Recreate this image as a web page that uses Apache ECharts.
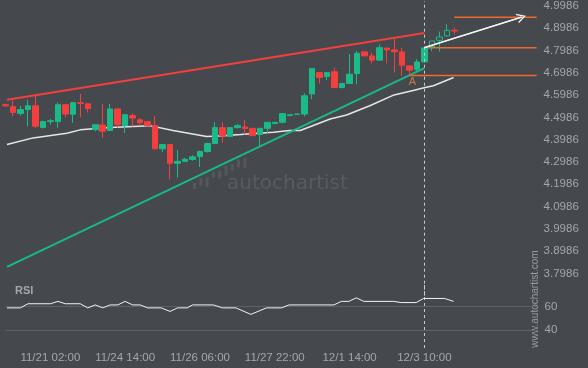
<!DOCTYPE html>
<html><head><meta charset="utf-8">
<script src="https://cdn.jsdelivr.net/npm/echarts@6/dist/echarts.min.js"></script>
<style>html,body{margin:0;padding:0;background:#45484d;}#c{width:588px;height:368px;}</style>
</head><body><div id="c"></div><script>
// ---- data ----
const opens  = [4.556,4.547,4.517,4.534,4.551,4.454,4.480,4.480,4.556,4.513,4.565,4.560,4.444,4.465,4.440,4.537,4.462,4.507,4.488,4.480,4.462,4.358,4.377,4.293,4.302,4.310,4.323,4.346,4.382,4.453,4.413,4.453,4.456,4.450,4.422,4.450,4.471,4.477,4.507,4.513,4.514,4.604,4.700,4.683,4.704,4.633,4.651,4.696,4.793,4.775,4.756,4.810,4.802,4.793,4.730,4.715,4.748,4.817,4.845,4.865,4.890];
const closes = [4.551,4.521,4.534,4.551,4.459,4.480,4.484,4.556,4.514,4.565,4.562,4.539,4.466,4.437,4.537,4.466,4.511,4.496,4.475,4.462,4.358,4.377,4.293,4.302,4.311,4.322,4.346,4.382,4.453,4.416,4.453,4.462,4.449,4.417,4.450,4.477,4.477,4.516,4.511,4.514,4.596,4.718,4.678,4.700,4.633,4.651,4.693,4.787,4.775,4.756,4.812,4.802,4.794,4.733,4.711,4.748,4.811,4.842,4.860,4.890,4.887];
const highs  = [4.560,4.574,4.551,4.577,4.596,4.484,4.492,4.566,4.556,4.568,4.604,4.560,4.466,4.559,4.559,4.539,4.514,4.517,4.496,4.484,4.507,4.377,4.377,4.353,4.318,4.329,4.350,4.385,4.477,4.477,4.453,4.470,4.488,4.450,4.450,4.477,4.477,4.517,4.513,4.515,4.607,4.718,4.700,4.700,4.723,4.651,4.783,4.797,4.793,4.790,4.827,4.812,4.857,4.812,4.730,4.760,4.815,4.842,4.884,4.917,4.902];
const lows   = [4.547,4.504,4.507,4.459,4.452,4.449,4.466,4.452,4.499,4.474,4.499,4.521,4.437,4.407,4.440,4.454,4.429,4.458,4.462,4.458,4.355,4.343,4.221,4.228,4.298,4.305,4.276,4.341,4.380,4.385,4.410,4.450,4.422,4.417,4.368,4.428,4.469,4.472,4.505,4.512,4.504,4.581,4.651,4.666,4.633,4.629,4.648,4.648,4.775,4.741,4.753,4.741,4.700,4.686,4.690,4.700,4.746,4.797,4.794,4.860,4.872];
const hollowCandles = [57,58,59];
const maPoints = [[0.2,4.377],[3.7,4.407],[8.2,4.428],[10,4.443],[11.3,4.447],[14,4.454],[19.3,4.462],[22.4,4.440],[26.9,4.413],[29.1,4.417],[31.4,4.422],[35.8,4.432],[38,4.440],[39.4,4.440],[43.4,4.492],[45.6,4.510],[48.7,4.551],[51.8,4.598],[54.5,4.620],[56.1,4.633],[57.2,4.641],[59.9,4.678]];
const rsiPoints = [[0.2,59],[2,59],[3,62.5],[6,62.5],[7,64.5],[8,62.5],[10,62.5],[11,59],[12,61.5],[13,59],[14,61.5],[15,61.5],[16,64.5],[17,61.5],[18,61.5],[19,59],[20.8,59],[22,56],[23,59],[24.3,59],[25,61.5],[27.8,61.5],[29,59],[30.8,59],[32.8,53.5],[34.9,59],[36.9,59],[37.9,61.5],[43.9,61.5],[44.9,64.5],[45.9,64.5],[46.9,67.5],[47.9,64.5],[51.9,64.5],[52.9,63.5],[54.9,63.5],[55.9,67],[58.7,67],[59.9,64.5]];
const resistanceLine = [[0.2,4.578],[56,4.878]];
const supportLine    = [[0.2,3.828],[56,4.720]];
const levelLow  = [[54,4.687],[71,4.687]];
const levelMid  = [[56,4.812],[71,4.812]];
const levelHigh = [[60,4.949],[71,4.949]];
const forecastArrow = [[56,4.812],[69,4.949]];
const pointA = [[54.4,4.660]];
const markerIndex = 56;
const slotCount = 72;
const priceTickBase = 3.6986, priceTickStep = 0.1;
const tickIndex  = [6,16,26,36,46,56];
const tickLabels = ['11/21 02:00','11/24 14:00','11/26 06:00','11/27 22:00','12/1 14:00','12/3 10:00'];
const rsiTicks = [40,60];

// ---- chart ----
const BG='#45484d', GREEN='#1bba89', RED='#f53e3e', ORANGE='#f06a2c', TXT='#a3a7ac';
const FONT='"Liberation Sans", Arial, sans-serif';
const cats = []; for (let i=0;i<slotCount;i++) cats.push(String(i));
const candles = opens.map((o,i)=>{
  const item = {value:[o,closes[i],lows[i],highs[i]]};
  if (hollowCandles.indexOf(i)>=0) item.itemStyle = {color:BG, borderColor:GREEN};
  return item;
});
const chart = echarts.init(document.getElementById('c'));
const L=5.5, W=531.1;
const lineSeries = (data,color,width,extra)=>Object.assign({type:'line',xAxisIndex:1,yAxisIndex:0,data:data,showSymbol:false,symbol:'none',silent:true,
  lineStyle:{color:color,width:width},z:3},extra||{});
chart.setOption({
  backgroundColor:BG,
  animation:false,
  grid:[{left:L,top:0,width:W,height:295.7},{left:L,top:283.1,width:W,height:64.9}],
  xAxis:[
    {type:'category',gridIndex:0,data:cats,boundaryGap:false,show:false},
    {type:'value',gridIndex:0,min:0,max:slotCount-1,show:false},
    {type:'category',gridIndex:1,data:cats,boundaryGap:false,axisLine:{show:false},axisTick:{show:false},splitLine:{show:false},
      axisLabel:{interval:function(i){return tickIndex.indexOf(i)>=0;},
        formatter:function(v,i){const j=tickIndex.indexOf(i);return j>=0?tickLabels[j]:'';},
        color:TXT,fontSize:11.5,fontFamily:FONT,margin:4}},
    {type:'value',gridIndex:1,min:0,max:slotCount-1,show:false}
  ],
  yAxis:[
    {type:'value',gridIndex:0,position:'right',min:priceTickBase,max:5.021,interval:priceTickStep,
      splitLine:{show:false},axisLine:{show:false},axisTick:{show:false},
      axisLabel:{color:TXT,fontSize:11.5,fontFamily:FONT,margin:7,showMinLabel:true,showMaxLabel:true,
        formatter:function(v){const n=(v-priceTickBase)/priceTickStep;const r=Math.round(n);
          return (Math.abs(n-r)<0.05 && r>=1 && r<=13)?(priceTickBase+r*priceTickStep).toFixed(4):'';}}},
    {type:'value',gridIndex:1,position:'right',min:25,max:80,interval:5,
      splitLine:{show:false},axisLine:{show:false},axisTick:{show:false},
      axisLabel:{color:TXT,fontSize:11.5,fontFamily:FONT,margin:8,
        formatter:function(v){return rsiTicks.indexOf(Math.round(v))>=0?String(Math.round(v)):'';}}}
  ],
  series:[
    {type:'candlestick',xAxisIndex:0,yAxisIndex:0,data:candles,barWidth:6,silent:true,z:4,
      itemStyle:{color:GREEN,color0:RED,borderColor:GREEN,borderColor0:RED,borderWidth:1}},
    lineSeries(maPoints,'#e6e6e6',1.5,{z:2,
      markLine:{silent:true,symbol:['none','none'],label:{show:false},
        lineStyle:{color:'#c8ccd0',type:[3,3],width:1},data:[{xAxis:markerIndex}]}}),
    lineSeries(resistanceLine,'#f2403f',2),
    lineSeries(supportLine,'#19b888',2),
    lineSeries(levelLow,ORANGE,1.5),
    lineSeries(levelMid,ORANGE,1.5),
    lineSeries(levelHigh,ORANGE,1.5),
    lineSeries(forecastArrow,'#f2f2f2',1.5,{z:6,
      markLine:{silent:true,symbol:['none','path://M5,0 L10,9 L8.4,9 L5,2.6 L1.6,9 L0,9 Z'],symbolSize:[10,9],label:{show:false},
        lineStyle:{color:'#f2f2f2',width:1.5,type:'solid'},
        data:[[{coord:forecastArrow[0]},{coord:forecastArrow[1]}]]}}),
    {type:'scatter',xAxisIndex:1,yAxisIndex:0,data:pointA,symbolSize:0,silent:true,z:6,
      label:{show:true,position:'inside',formatter:'A',color:'#e8864a',fontSize:11,fontFamily:FONT}},
    {type:'line',xAxisIndex:3,yAxisIndex:1,data:[],silent:true,z:1,
      markLine:{silent:true,symbol:['none','none'],label:{show:false},z:1,
        data:[{yAxis:rsiTicks[0],lineStyle:{color:'#5e6267',width:1,type:'solid'}},
              {yAxis:rsiTicks[1],lineStyle:{color:'#5e6267',width:1,type:'solid'}},
              {xAxis:markerIndex,lineStyle:{color:'#c8ccd0',width:1,type:[3,3]}}]}},
    {type:'line',xAxisIndex:3,yAxisIndex:1,data:rsiPoints,showSymbol:false,symbol:'none',silent:true,
      lineStyle:{color:'#f4f4f4',width:1},z:5}
  ],
  graphic:(function(){
    const g=[];
    for (let i=0;i<9;i++){
      g.push({type:'rect',silent:true,z:1,shape:{x:193+i*6.3,y:183-i*3.1-(i%2)*2,width:3,height:6+(i%3)*2},style:{fill:'#54585d'}});
    }
    g.push({type:'text',silent:true,z:1,left:227,top:174,style:{text:'autochartist',fill:'#585c61',font:'20px "DejaVu Sans", sans-serif'}});
    g.push({type:'text',silent:true,x:535,y:299,rotation:Math.PI/2,style:{text:'www.autochartist.com',fill:'#9a9ea3',font:'10px "Liberation Sans", Arial',align:'center',verticalAlign:'middle'}});
    g.push({type:'text',silent:true,left:15,top:285,style:{text:'RSI',fill:TXT,font:'bold 11px "Liberation Sans", Arial'}});
    return g;
  })()
});
</script></body></html>
